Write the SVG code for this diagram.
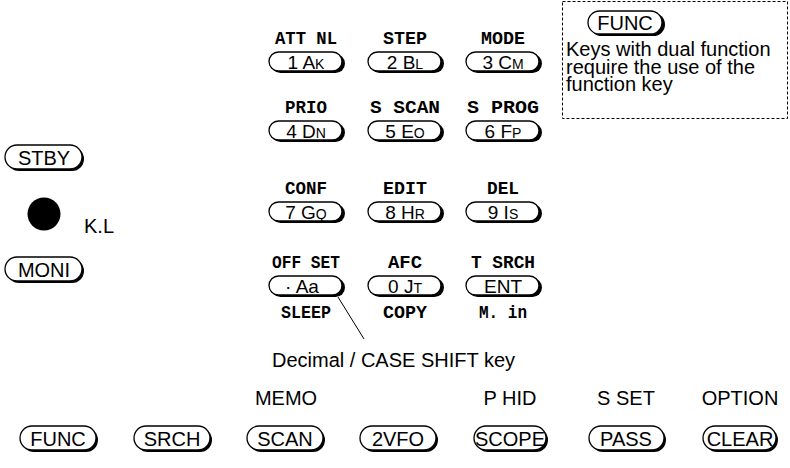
<svg xmlns="http://www.w3.org/2000/svg" width="790" height="468" viewBox="0 0 790 468">
<style>
.sh{fill:#000}
.pill{fill:#fff;stroke:#000;stroke-width:1.3}
.kt{font-family:"Liberation Sans",Arial,sans-serif;font-size:19px;text-anchor:middle;fill:#000}
.sm{font-size:14px}
.lb{font-family:"Liberation Mono","DejaVu Sans Mono",monospace;font-weight:bold;font-size:19px;text-anchor:middle;fill:#000}
.st{font-family:"Liberation Sans",Arial,sans-serif;font-size:20px;fill:#000}
.mid{text-anchor:middle}
</style>
<rect x="0" y="0" width="790" height="468" fill="#fff"/>
<rect x="562.5" y="1.5" width="225" height="117" fill="none" stroke="#000" stroke-width="1" stroke-dasharray="3 2"/>
<g id="func-legend">
<rect class="sh" x="590" y="13" width="75" height="23" rx="11.5"/>
<rect class="pill" x="588" y="11" width="74" height="23" rx="11.5"/>
<text class="st mid" x="625" y="30">FUNC</text>
<text class="st" x="566" y="56">Keys with dual function</text>
<text class="st" x="566" y="74">require the use of the</text>
<text class="st" x="566" y="91">function key</text>
</g>
<g id="k1"><text class="lb" x="306" y="44" textLength="62" lengthAdjust="spacingAndGlyphs">ATT NL</text><rect class="sh" x="271" y="54" width="74" height="19" rx="9.5"/><rect class="pill" x="269" y="52" width="73" height="19" rx="9.5"/><text class="kt" x="306" y="68.5">1 A<tspan class="sm">K</tspan></text></g>
<g id="k2"><text class="lb" x="405" y="44" textLength="44" lengthAdjust="spacingAndGlyphs">STEP</text><rect class="sh" x="370" y="54" width="74" height="19" rx="9.5"/><rect class="pill" x="368" y="52" width="73" height="19" rx="9.5"/><text class="kt" x="405" y="68.5">2 B<tspan class="sm">L</tspan></text></g>
<g id="k3"><text class="lb" x="503" y="44" textLength="44" lengthAdjust="spacingAndGlyphs">MODE</text><rect class="sh" x="468" y="54" width="74" height="19" rx="9.5"/><rect class="pill" x="466" y="52" width="73" height="19" rx="9.5"/><text class="kt" x="503" y="68.5">3 C<tspan class="sm">M</tspan></text></g>
<g id="k4"><text class="lb" x="306" y="113" textLength="42" lengthAdjust="spacingAndGlyphs">PRIO</text><rect class="sh" x="271" y="123" width="74" height="19" rx="9.5"/><rect class="pill" x="269" y="121" width="73" height="19" rx="9.5"/><text class="kt" x="306" y="137.5">4 D<tspan class="sm">N</tspan></text></g>
<g id="k5"><text class="lb" x="405" y="113" textLength="70" lengthAdjust="spacingAndGlyphs">S SCAN</text><rect class="sh" x="370" y="123" width="74" height="19" rx="9.5"/><rect class="pill" x="368" y="121" width="73" height="19" rx="9.5"/><text class="kt" x="405" y="137.5">5 E<tspan class="sm">O</tspan></text></g>
<g id="k6"><text class="lb" x="503" y="113" textLength="72" lengthAdjust="spacingAndGlyphs">S PROG</text><rect class="sh" x="468" y="123" width="74" height="19" rx="9.5"/><rect class="pill" x="466" y="121" width="73" height="19" rx="9.5"/><text class="kt" x="503" y="137.5">6 F<tspan class="sm">P</tspan></text></g>
<g id="k7"><text class="lb" x="306" y="194" textLength="42" lengthAdjust="spacingAndGlyphs">CONF</text><rect class="sh" x="271" y="204" width="74" height="19" rx="9.5"/><rect class="pill" x="269" y="202" width="73" height="19" rx="9.5"/><text class="kt" x="306" y="218.5">7 G<tspan class="sm">Q</tspan></text></g>
<g id="k8"><text class="lb" x="405" y="194" textLength="44" lengthAdjust="spacingAndGlyphs">EDIT</text><rect class="sh" x="370" y="204" width="74" height="19" rx="9.5"/><rect class="pill" x="368" y="202" width="73" height="19" rx="9.5"/><text class="kt" x="405" y="218.5">8 H<tspan class="sm">R</tspan></text></g>
<g id="k9"><text class="lb" x="503" y="194" textLength="32" lengthAdjust="spacingAndGlyphs">DEL</text><rect class="sh" x="468" y="204" width="74" height="19" rx="9.5"/><rect class="pill" x="466" y="202" width="73" height="19" rx="9.5"/><text class="kt" x="503" y="218.5">9 I<tspan class="sm">S</tspan></text></g>
<g id="kdot"><text class="lb" x="306" y="268" textLength="68" lengthAdjust="spacingAndGlyphs">OFF SET</text><rect class="sh" x="271" y="278" width="74" height="19" rx="9.5"/><rect class="pill" x="269" y="276" width="73" height="19" rx="9.5"/><text class="kt" x="302" y="292.5">· Aa</text><text class="lb" x="306" y="318" textLength="50" lengthAdjust="spacingAndGlyphs">SLEEP</text></g>
<g id="k0"><text class="lb" x="405" y="268" textLength="34" lengthAdjust="spacingAndGlyphs">AFC</text><rect class="sh" x="370" y="278" width="74" height="19" rx="9.5"/><rect class="pill" x="368" y="276" width="73" height="19" rx="9.5"/><text class="kt" x="405" y="292.5">0 J<tspan class="sm">T</tspan></text><text class="lb" x="405" y="318" textLength="44" lengthAdjust="spacingAndGlyphs">COPY</text></g>
<g id="kent"><text class="lb" x="503" y="268" textLength="64" lengthAdjust="spacingAndGlyphs">T SRCH</text><rect class="sh" x="468" y="278" width="74" height="19" rx="9.5"/><rect class="pill" x="466" y="276" width="73" height="19" rx="9.5"/><text class="kt" x="503" y="292.5">ENT</text><text class="lb" x="503" y="318" textLength="48" lengthAdjust="spacingAndGlyphs">M. in</text></g>
<g id="connectors"><line x1="338" y1="297" x2="364" y2="339" stroke="#000" stroke-width="1"/></g>
<text class="st" x="272" y="367" font-size="22">Decimal / CASE SHIFT key</text>
<g id="stby"><rect class="sh" x="7" y="147" width="77" height="24" rx="12"/><rect class="pill" x="5" y="145" width="77" height="24" rx="12"/><text class="st mid" x="44" y="164.5">STBY</text></g>
<g id="kl"><circle cx="44" cy="214" r="16.5" fill="#000"/><text class="st" x="84" y="233" font-size="19">K.L</text></g>
<g id="moni"><rect class="sh" x="7" y="259" width="77" height="24" rx="12"/><rect class="pill" x="5" y="257" width="77" height="24" rx="12"/><text class="st mid" x="44" y="276.5">MONI</text></g>
<g id="b-func"><rect class="sh" x="22" y="428" width="76" height="24" rx="12"/><rect class="pill" x="20" y="426" width="76" height="24" rx="12"/><text class="st mid" x="58" y="445.5">FUNC</text></g>
<g id="b-srch"><rect class="sh" x="136" y="428" width="76" height="24" rx="12"/><rect class="pill" x="134" y="426" width="76" height="24" rx="12"/><text class="st mid" x="172" y="445.5">SRCH</text></g>
<g id="b-scan"><text class="st mid" x="286" y="405">MEMO</text><rect class="sh" x="249" y="428" width="76" height="24" rx="12"/><rect class="pill" x="247" y="426" width="76" height="24" rx="12"/><text class="st mid" x="285" y="445.5">SCAN</text></g>
<g id="b-2vfo"><rect class="sh" x="362" y="428" width="76" height="24" rx="12"/><rect class="pill" x="360" y="426" width="76" height="24" rx="12"/><text class="st mid" x="398" y="445.5">2VFO</text></g>
<g id="b-scope"><text class="st mid" x="510" y="405">P HID</text><rect class="sh" x="476" y="428" width="72" height="24" rx="12"/><rect class="pill" x="474" y="426" width="72" height="24" rx="12"/><text class="st mid" x="510" y="445.5">SCOPE</text></g>
<g id="b-pass"><text class="st mid" x="626" y="405">S SET</text><rect class="sh" x="591" y="428" width="75" height="24" rx="12"/><rect class="pill" x="589" y="426" width="75" height="24" rx="12"/><text class="st mid" x="626" y="445.5">PASS</text></g>
<g id="b-clear"><text class="st mid" x="740" y="405">OPTION</text><rect class="sh" x="705" y="428" width="73" height="24" rx="12"/><rect class="pill" x="703" y="426" width="73" height="24" rx="12"/><text class="st mid" x="740" y="445.5">CLEAR</text></g>
</svg>
